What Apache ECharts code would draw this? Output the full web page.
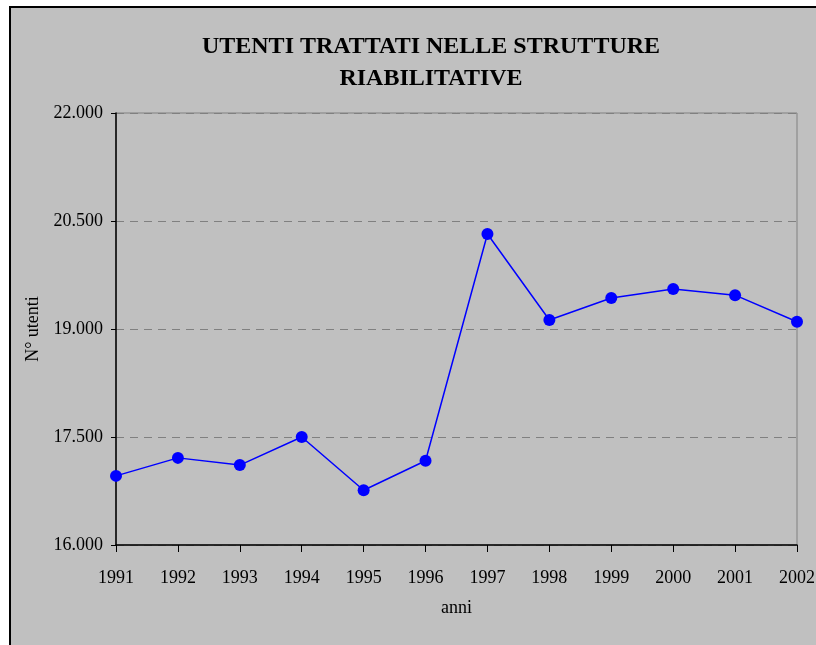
<!DOCTYPE html>
<html>
<head>
<meta charset="utf-8">
<script src="https://cdn.jsdelivr.net/npm/echarts@6/dist/echarts.min.js"></script>
<style>
  html, body { margin: 0; padding: 0; background: #ffffff; }
  #main { width: 816px; height: 645px; }
</style>
</head>
<body>
<div id="main"></div>
<script>
// anni e utenti trattati
var anni = ['1991', '1992', '1993', '1994', '1995', '1996', '1997', '1998', '1999', '2000', '2001', '2002'];
var utenti = [16960, 17210, 17110, 17500, 16760, 17170, 20320, 19125, 19430, 19555, 19470, 19100];
var titolo = 'UTENTI TRATTATI NELLE STRUTTURE\nRIABILITATIVE';

var serif = "'Liberation Serif', 'Times New Roman', serif";

var chart = echarts.init(document.getElementById('main'));

var option = {
  backgroundColor: '#ffffff',
  animation: false,
  graphic: [{
    type: 'rect',
    z: -10,
    shape: { x: 10, y: 7, width: 840, height: 670 },
    style: { fill: '#c0c0c0', stroke: '#000000', lineWidth: 2 }
  }],
  title: {
    text: titolo,
    left: 426,
    top: 26,
    textAlign: 'center',
    textStyle: {
      fontFamily: serif,
      fontWeight: 'bold',
      fontSize: 24,
      lineHeight: 32,
      color: '#000000'
    }
  },
  grid: {
    left: 116,
    right: 19,
    top: 113,
    bottom: 100,
    outerBoundsMode: 'none',
    show: true,
    borderColor: '#808080',
    borderWidth: 1,
    backgroundColor: 'transparent'
  },
  xAxis: {
    type: 'category',
    data: anni,
    boundaryGap: false,
    name: 'anni',
    nameLocation: 'middle',
    nameGap: 54,
    nameTextStyle: { fontFamily: serif, fontSize: 18, color: '#000000' },
    axisLine: { lineStyle: { color: '#000000', width: 1.5 } },
    axisTick: { show: true, length: 7, alignWithLabel: true, lineStyle: { color: '#000000' } },
    axisLabel: { fontFamily: serif, fontSize: 18, color: '#000000', margin: 24, interval: 0 },
    splitLine: { show: false }
  },
  yAxis: {
    type: 'value',
    min: 16000,
    max: 22000,
    interval: 1500,
    name: 'N° utenti',
    nameLocation: 'middle',
    nameGap: 73,
    nameTextStyle: { fontFamily: serif, fontSize: 18, color: '#000000' },
    axisLine: { show: true, lineStyle: { color: '#000000', width: 1.5 } },
    axisTick: { show: true, length: 5, lineStyle: { color: '#000000' } },
    axisLabel: {
      fontFamily: serif,
      fontSize: 18,
      color: '#000000',
      margin: 13,
      formatter: function (v) {
        return String(v).replace(/\B(?=(\d{3})+(?!\d))/g, '.');
      }
    },
    splitLine: { show: true, lineStyle: { color: '#808080', type: [8, 6], width: 1 } }
  },
  series: [{
    type: 'line',
    data: utenti,
    symbol: 'circle',
    symbolSize: 12,
    lineStyle: { color: '#0000ff', width: 1.5 },
    itemStyle: { color: '#0000ff' }
  }]
};

chart.setOption(option);
</script>
</body>
</html>
